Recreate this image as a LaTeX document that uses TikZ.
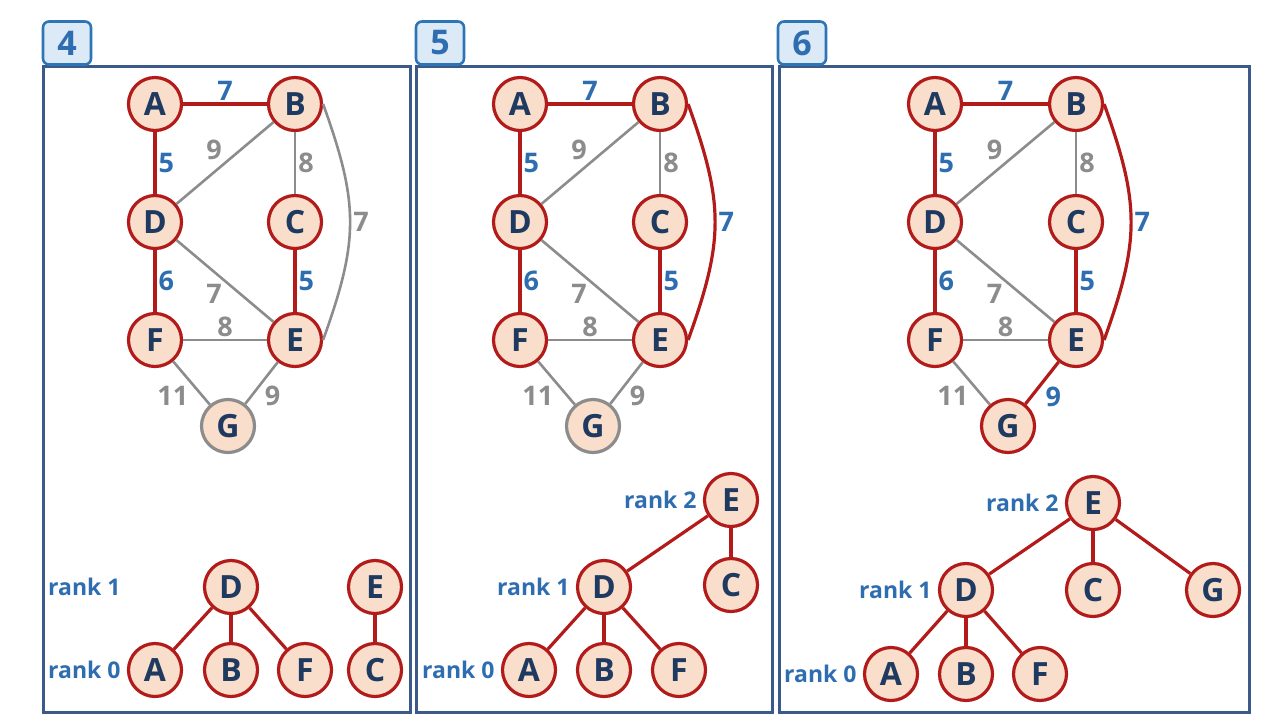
\documentclass[tikz,border=0pt]{standalone}
\usepackage{fontspec}
\setsansfont{Open Sans}
\usetikzlibrary{positioning}
\definecolor{nodefill}{HTML}{F9DFCB}
\definecolor{nodered}{HTML}{B31B1B}
\definecolor{letter}{HTML}{1F3A60}
\definecolor{edgegray}{HTML}{8C8C8C}
\definecolor{wblue}{HTML}{2E6DB0}
\definecolor{frameblue}{HTML}{3B5A8A}
\definecolor{tabfill}{HTML}{DCE9F7}
\definecolor{tabline}{HTML}{2E75B6}
\tikzset{
x=0.5pt, y=-0.5pt, % one unit is one pixel of the slide, y goes down
vtx/.style={circle, draw=nodered, line width=1.6pt, fill=nodefill, minimum size=26.5pt, inner sep=0pt,
  text=letter, font=\sffamily\bfseries\fontsize{16}{16}\selectfont}, % every vertex
vtxgray/.style={vtx, draw=edgegray}, % vertex not yet reached
picked/.style={draw=nodered, line width=1.6pt}, % edge in the tree
skipped/.style={draw=edgegray, line width=1.3pt}, % edge not taken
wpick/.style={text=wblue, inner sep=1pt, font=\sffamily\bfseries\fontsize{13.5}{13.5}\selectfont},
wskip/.style={text=edgegray, inner sep=1pt, font=\sffamily\bfseries\fontsize{13.5}{13.5}\selectfont},
ranklbl/.style={text=wblue, inner sep=1pt, anchor=east, font=\sffamily\bfseries\fontsize{11.5}{11.5}\selectfont},
panel/.style={draw=frameblue, line width=1.5pt},
tab/.style={draw=tabline, fill=tabfill, line width=1.3pt, rounded corners=3pt, minimum width=24pt,
  minimum height=21.5pt, inner sep=0pt, text=wblue, font=\sffamily\bfseries\fontsize{17}{17}\selectfont},
}
\begin{document}
\begin{tikzpicture}
\useasboundingbox (0,0) rectangle (1273,719);

% ---------- step 4 ----------
\draw[panel] (43,66) rectangle (410,712);
\node[tab] (tab4) at (67,43) {4};

\node[vtx] (A4) at (155,104) {A};
\node[vtx] (B4) at (295,104) {B};
\node[vtx] (D4) at (155,222) {D};
\node[vtx] (C4) at (295,222) {C};
\node[vtx] (F4) at (155,340) {F};
\node[vtx] (E4) at (295,340) {E};
\node[vtxgray] (G4) at (228,426) {G};

\draw[picked] (A4) -- node[wpick,above]{7} (B4);
\draw[picked] (A4) -- node[wpick,right]{5} (D4);
\draw[skipped] (B4) -- node[wskip,above left]{9} (D4);
\draw[skipped] (B4) -- node[wskip,right]{8} (C4);
\draw[skipped] (B4.east) .. controls +(36,100) and +(36,-100) .. node[wskip,right]{7} (E4.east);
\draw[skipped] (D4) -- node[wskip,below left]{7} (E4);
\draw[picked] (D4) -- node[wpick,right]{6} (F4);
\draw[picked] (C4) -- node[wpick,right]{5} (E4);
\draw[skipped] (F4) -- node[wskip,above]{8} (E4);
\draw[skipped] (F4) -- node[wskip,below left]{11} (G4);
\draw[skipped] (E4) -- node[wskip,below right]{9} (G4);

% union-find forest
\node[vtx] (tD4) at (231,587) {D};
\node[vtx] (tE4) at (375,587) {E};
\node[vtx] (tA4) at (155,670) {A};
\node[vtx] (tB4) at (231,670) {B};
\node[vtx] (tF4) at (305,670) {F};
\node[vtx] (tC4) at (375,670) {C};
\node[ranklbl, left=2pt of tA4] (r0a) {rank 0};
\node[ranklbl] (r1a) at (r0a.east |- tD4) {rank 1};
\draw[picked] (tD4) -- (tA4);
\draw[picked] (tD4) -- (tB4);
\draw[picked] (tD4) -- (tF4);
\draw[picked] (tE4) -- (tC4);

% ---------- step 5 ----------
\draw[panel] (416,66) rectangle (772,712);
\node[tab] (tab5) at (440,43) {5};

\node[vtx] (A5) at (520,104) {A};
\node[vtx] (B5) at (660,104) {B};
\node[vtx] (D5) at (520,222) {D};
\node[vtx] (C5) at (660,222) {C};
\node[vtx] (F5) at (520,340) {F};
\node[vtx] (E5) at (660,340) {E};
\node[vtxgray] (G5) at (593,426) {G};

\draw[picked] (A5) -- node[wpick,above]{7} (B5);
\draw[picked] (A5) -- node[wpick,right]{5} (D5);
\draw[skipped] (B5) -- node[wskip,above left]{9} (D5);
\draw[skipped] (B5) -- node[wskip,right]{8} (C5);
\draw[picked] (B5.east) .. controls +(36,100) and +(36,-100) .. node[wpick,right]{7} (E5.east);
\draw[skipped] (D5) -- node[wskip,below left]{7} (E5);
\draw[picked] (D5) -- node[wpick,right]{6} (F5);
\draw[picked] (C5) -- node[wpick,right]{5} (E5);
\draw[skipped] (F5) -- node[wskip,above]{8} (E5);
\draw[skipped] (F5) -- node[wskip,below left]{11} (G5);
\draw[skipped] (E5) -- node[wskip,below right]{9} (G5);

\node[vtx] (tE5) at (731,500) {E};
\node[vtx] (tC5) at (731,585) {C};
\node[vtx] (tD5) at (604,587) {D};
\node[vtx] (tA5) at (529,670) {A};
\node[vtx] (tB5) at (604,670) {B};
\node[vtx] (tF5) at (679,670) {F};
\node[ranklbl, left=2pt of tA5] {rank 0};
\node[ranklbl, left=2pt of tD5] {rank 1};
\node[ranklbl, left=2pt of tE5] {rank 2};
\draw[picked] (tE5) -- (tD5);
\draw[picked] (tE5) -- (tC5);
\draw[picked] (tD5) -- (tA5);
\draw[picked] (tD5) -- (tB5);
\draw[picked] (tD5) -- (tF5);

% ---------- step 6 ----------
\draw[panel] (779,66) rectangle (1249,712);
\node[tab] (tab6) at (802,43) {6};

\node[vtx] (A6) at (935,104) {A};
\node[vtx] (B6) at (1076,104) {B};
\node[vtx] (D6) at (935,222) {D};
\node[vtx] (C6) at (1076,222) {C};
\node[vtx] (F6) at (935,340) {F};
\node[vtx] (E6) at (1076,340) {E};
\node[vtx] (G6) at (1008,426) {G};

\draw[picked] (A6) -- node[wpick,above]{7} (B6);
\draw[picked] (A6) -- node[wpick,right]{5} (D6);
\draw[skipped] (B6) -- node[wskip,above left]{9} (D6);
\draw[skipped] (B6) -- node[wskip,right]{8} (C6);
\draw[picked] (B6.east) .. controls +(36,100) and +(36,-100) .. node[wpick,right]{7} (E6.east);
\draw[skipped] (D6) -- node[wskip,below left]{7} (E6);
\draw[picked] (D6) -- node[wpick,right]{6} (F6);
\draw[picked] (C6) -- node[wpick,right]{5} (E6);
\draw[skipped] (F6) -- node[wskip,above]{8} (E6);
\draw[skipped] (F6) -- node[wskip,below left]{11} (G6);
\draw[picked] (E6) -- node[wpick,below right]{9} (G6);

\node[vtx] (tE6) at (1093,503) {E};
\node[vtx] (tD6) at (966,590) {D};
\node[vtx] (tC6) at (1093,590) {C};
\node[vtx] (tG6) at (1213,590) {G};
\node[vtx] (tA6) at (891,674) {A};
\node[vtx] (tB6) at (966,674) {B};
\node[vtx] (tF6) at (1040,674) {F};
\node[ranklbl, left=2pt of tA6] {rank 0};
\node[ranklbl, left=2pt of tD6] {rank 1};
\node[ranklbl, left=2pt of tE6] {rank 2};
\draw[picked] (tE6) -- (tD6);
\draw[picked] (tE6) -- (tC6);
\draw[picked] (tE6) -- (tG6);
\draw[picked] (tD6) -- (tA6);
\draw[picked] (tD6) -- (tB6);
\draw[picked] (tD6) -- (tF6);
\end{tikzpicture}
\end{document}
